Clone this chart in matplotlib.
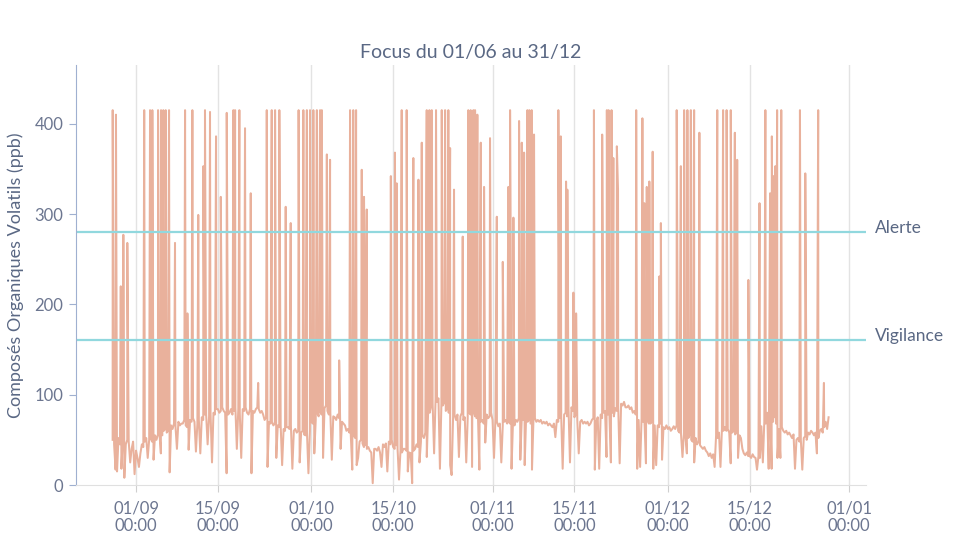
import numpy as np
import pandas as pd
import matplotlib
matplotlib.use("Agg")
import matplotlib.pyplot as plt
import matplotlib.dates as mdates

plt.rcParams['font.family'] = ['Lato', 'DejaVu Sans']

# origine des temps : 01/09 00:00 (jours decimaux)
debut = pd.Timestamp('2021-09-01')

# niveau de fond (ppb), un point toutes les 6 h a partir du jour -4
fond_j0 = -4
fond_pas = 0.25
fond = [50, 45, 17, 15,  52, 45, 18, 55,  8, 45, 50, 48,  25, 40, 48, 12,
        38, 30, 20, 35,  45, 42, 48, 52,  30, 50, 52, 48,  28, 55, 50, 56,
        58, 35, 55, 60,  62, 58, 60, 14,  66, 62, 68, 65,  40, 70, 66, 68,
        68, 72, 66, 64,  39, 72, 70, 74,  70, 37, 68, 72,  35, 75, 72, 78,
        78, 45, 76, 80,  25, 80, 78, 84,  84, 80, 82, 86,  82, 80, 13, 78,
        80, 84, 78, 82,  86, 40, 84, 80,  30, 84, 82, 86,  80, 78, 84, 13,
        82, 80, 84, 86,  84, 80, 82, 78,  72, 75, 20, 70,  68, 70, 66, 68,
        30, 66, 64, 66,  22, 62, 60, 64,  64, 62, 66, 18,  60, 62, 58, 60,
        25, 58, 60, 56,  55, 58, 13, 60,  70, 68, 35, 72,  80, 76, 82, 78,
        30, 85, 88, 82,  78, 80, 28, 76,  75, 72, 78, 74,  40, 70, 68, 66,
        60, 62, 58, 55,  17, 55, 52, 22,  30, 48, 50, 46,  42, 44, 40, 42,
        38, 36, 2, 40,   40, 38, 42, 36,  20, 45, 42, 46,  15, 48, 45, 50,
        42, 40, 44, 40,  6, 38, 36, 40,   40, 38, 15, 36,  35, 2, 38, 40,
        45, 42, 25, 48,  55, 52, 58, 31,  85, 80, 88, 90,  35, 95, 92, 96,
        18, 90, 88, 92,  82, 85, 80, 22,  11, 75, 78, 72,  78, 31, 76, 80,
        72, 75, 25, 74,  80, 78, 20, 82,  76, 74, 78, 17,  70, 72, 68, 47,
        78, 74, 76, 80,  72, 30, 74, 70,  65, 68, 25, 66,  70, 72, 68, 70,
        68, 18, 70, 66,  72, 70, 74, 28,  74, 72, 22, 76,  70, 72, 68, 17,
        72, 74, 70, 72,  70, 72, 68, 70,  68, 70, 66, 68,  66, 64, 68, 53,
        72, 70, 74, 76,  18, 78, 80, 76,  85, 25, 86, 82,  75, 78, 72, 35,
        70, 72, 68, 70,  68, 70, 66, 68,  72, 74, 17, 70,  75, 18, 78, 74,
        80, 82, 31, 78,  78, 25, 80, 76,  85, 82, 88, 24,  90, 88, 92, 86,
        86, 88, 84, 86,  80, 82, 78, 18,  72, 20, 74, 70,  70, 24, 72, 68,
        68, 70, 18, 66,  22, 66, 64, 68,  28, 64, 62, 66,  62, 64, 60, 62,
        65, 62, 66, 60,  58, 56, 31, 58,  55, 35, 52, 56,  50, 48, 25, 52,
        45, 48, 44, 42,  40, 42, 38, 36,  32, 35, 30, 34,  20, 55, 52, 58,
        20, 62, 60, 64,  60, 62, 58, 24,  58, 60, 56, 58,  30, 55, 52, 40,
        35, 33, 36, 32,  32, 30, 34, 31,  30, 17, 32, 30,  65, 25, 70, 68,
        80, 18, 85, 18,  70, 75, 68, 30,  62, 30, 64, 60,  58, 60, 56, 58,
        55, 52, 56, 18,  50, 52, 48, 50,  17, 52, 54, 50,  58, 56, 60, 58,
        55, 58, 35, 52,  60, 62, 58, 64,  70, 62, 75]

# pics (jour, valeur)
pics_jour = [-3.99, -3.43, -2.61, -2.17, -1.49,
             1.4, 2.4, 2.79, 3.77, 4.28, 4.67, 5.08, 5.65, 6.67, 8.39, 8.79, 9.64,
             10.65, 11.52, 11.8, 12.66, 13.69, 14.5, 15.52, 16.65, 16.95, 17.68,
             18.65, 19.63, 20.9, 22.37, 23.22, 23.79, 24.52, 25.61, 26.47, 27.82,
             28.63, 29.23, 29.77, 30.34, 30.94, 31.49, 31.79, 32.65, 33.2, 34.76,
             36.62, 37.17, 37.65, 38.62, 39.01, 39.48, 43.6, 44.3, 44.6, 45.46,
             46.31, 47.45, 48.32, 48.89, 49.74, 50.2, 50.6, 51.33, 52.31, 52.88,
             53.44, 53.74, 54.41, 55.9, 56.85, 57.26, 57.72, 58.01, 58.4, 58.98,
             59.55, 60.57, 61.73, 62.75, 63.7, 64.0, 64.57, 65.54, 66.0, 66.4,
             66.96, 67.3, 67.7, 68.1, 72.26, 72.68, 73.58, 73.8, 74.84, 75.3,
             78.35, 79.76, 80.56, 80.86, 81.36, 81.67, 82.27, 82.47, 85.58, 86.64,
             86.99, 87.39, 87.83, 88.4, 89.55, 89.8, 92.51, 93.22, 93.78, 94.34,
             94.93, 95.49, 96.39, 99.45, 100.45, 101.05, 101.76, 102.46, 102.86,
             104.77, 106.68, 107.68, 108.49, 108.79, 109.09, 109.39, 109.69, 110.4,
             113.6, 114.51, 116.72, 117.7]
pics_val = [415, 410, 220, 277, 268,
            415, 415, 415, 415, 415, 415, 415, 415, 268, 415, 190, 415,
            299, 353, 415, 413, 386, 319, 412, 415, 415, 415,
            395, 323, 113, 415, 415, 415, 415, 308, 290, 415,
            415, 415, 415, 415, 415, 415, 415, 366, 360, 138,
            415, 415, 415, 349, 319, 305, 342, 368, 334, 415,
            415, 362, 338, 379, 415, 415, 415, 415, 415, 415,
            415, 373, 327, 275, 415, 415, 415, 415, 410, 379,
            330, 384, 297, 247, 330, 415, 296, 403, 379, 368,
            415, 415, 415, 388, 415, 386, 336, 327, 213, 190,
            415, 388, 415, 415, 415, 362, 375, 327, 415, 406,
            312, 330, 336, 369, 231, 290, 415, 353, 415, 415,
            415, 415, 390, 415, 415, 415, 415, 390, 360,
            227, 312, 415, 323, 386, 342, 353, 415, 415,
            415, 345, 415, 113]

seuil_alerte = 280
seuil_vigilance = 160

ticks_dates = ['2021-09-01', '2021-09-15', '2021-10-01', '2021-10-15', '2021-11-01',
               '2021-11-15', '2021-12-01', '2021-12-15', '2022-01-01']

# assemblage de la serie
fond_jour = fond_j0 + fond_pas * np.arange(len(fond))
t = np.concatenate([fond_jour, pics_jour])
v = np.concatenate([fond, pics_val])
ordre = np.argsort(t, kind='stable')
serie = pd.Series(v[ordre], index=debut + pd.to_timedelta(t[ordre], unit='D'))

coul_txt = '#5a6884'
coul_tick = '#6c7690'

fig = plt.figure(figsize=(9.78, 5.5), dpi=100)
ax = fig.add_axes([76 / 978, (550 - 485) / 550, 790 / 978, 420 / 550])

ax.plot(serie.index, serie.values, color='#e9b19c', lw=1.45)
ax.axhline(seuil_alerte, color='#91d8de', lw=1.6)
ax.axhline(seuil_vigilance, color='#91d8de', lw=1.6)

ax.set_ylim(0, 465)
ax.set_xlim(debut - pd.Timedelta(days=10.27), debut + pd.Timedelta(days=124.9))
ax.set_yticks([0, 100, 200, 300, 400])
ax.set_xticks(pd.to_datetime(ticks_dates))
ax.xaxis.set_major_formatter(mdates.DateFormatter('%d/%m\n%H:%M'))
ax.grid(axis='x', color='#e3e3e3', lw=1)
ax.set_axisbelow(True)

for s in ['top', 'right']:
    ax.spines[s].set_visible(False)
ax.spines['left'].set_color('#9fb0d0')
ax.spines['bottom'].set_color('#e0e0e0')
ax.tick_params(axis='y', colors='#9fb0d0', labelcolor=coul_tick, labelsize=12, length=5, pad=4)
ax.tick_params(axis='x', colors='#cfcfcf', labelcolor=coul_tick, labelsize=12, length=5, pad=6)
for lab in ax.get_xticklabels():
    lab.set_linespacing(1.1)

ax.set_title('Focus du 01/06 au 31/12', color=coul_txt, fontsize=14, pad=5)
ax.set_ylabel('Composés Organiques Volatils (ppb)', color=coul_txt, fontsize=13, labelpad=8)

ax.text(1.011, seuil_alerte - 1, 'Alerte', transform=ax.get_yaxis_transform(),
        color=coul_txt, fontsize=12.5, va='baseline', ha='left')
ax.text(1.011, seuil_vigilance - 1, 'Vigilance', transform=ax.get_yaxis_transform(),
        color=coul_txt, fontsize=12.5, va='baseline', ha='left')

fig.savefig('out.png', dpi=100)
